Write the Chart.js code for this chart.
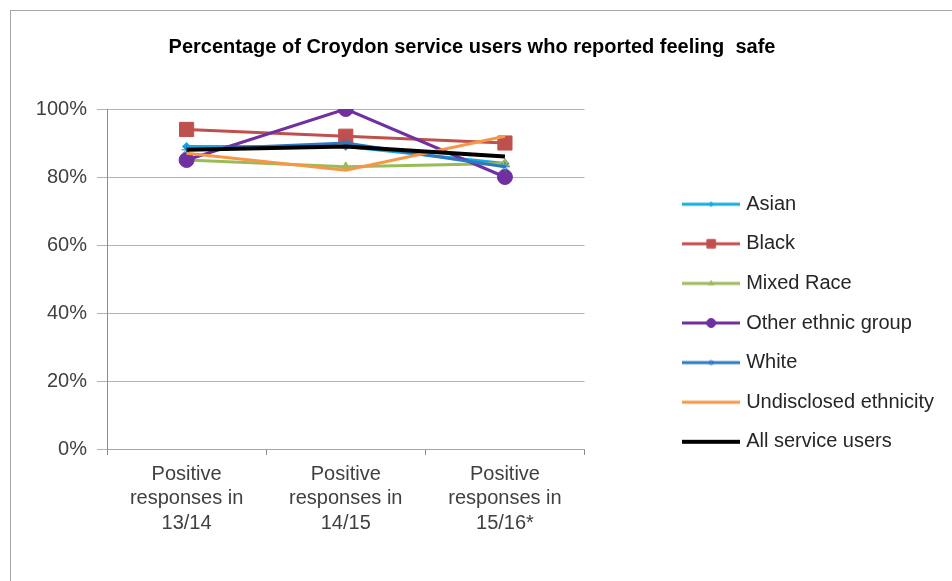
<!DOCTYPE html>
<html>
<head>
<meta charset="utf-8">
<script src="https://cdn.jsdelivr.net/npm/chart.js@4.4.1/dist/chart.umd.min.js"></script>
<style>
    html, body { margin: 0; padding: 0; background: #fff; }
    .frame {
        position: absolute; left: 10px; top: 10px;
        width: 1000px; height: 700px;
        border: 1px solid #a6a6a6;
    }
    .wrap { position: absolute; left: 0; top: 0; width: 952px; height: 581px; }
</style>
</head>
<body>
<div class="frame"></div>
<div class="wrap"><canvas id="safeChart"></canvas></div>
<script>
const categories = [
    ["Positive", "responses in", "13/14"],
    ["Positive", "responses in", "14/15"],
    ["Positive", "responses in", "15/16*"],
];
const yTicks = [0, 20, 40, 60, 80, 100];

const asian = [89, 89, 84];
const black = [94, 92, 90];
const mixedRace = [85, 83, 84];
const otherEthnic = [85, 100, 80];
const white = [88, 90, 83];
const undisclosed = [87, 82, 92];
const allUsers = [88, 89, 86];

const FONT = "Arial, 'Liberation Sans', sans-serif";

// series: label, values, colour, marker
const series = [
    { label: "Asian", data: asian, color: "#19a9e1", style: "rectRot", r: 4, w: 3 },
    { label: "Black", data: black, color: "#c0504d", style: "rect", r: 10, w: 3 },
    { label: "Mixed Race", data: mixedRace, color: "#9bbb59", style: "triangle", r: 5, w: 3 },
    { label: "Other ethnic group", data: otherEthnic, color: "#7030a0", style: "circle", r: 7.5, w: 3 },
    { label: "White", data: white, color: "#2c79c0", style: "star", r: 5, w: 3 },
    { label: "Undisclosed ethnicity", data: undisclosed, color: "#f79646", style: false, r: 0, w: 3 },
    { label: "All service users", data: allUsers, color: "#000000", style: false, r: 0, w: 4 },
];

// little line+marker swatches for the legend
function legendIcon(s) {
    const c = document.createElement("canvas");
    c.width = 58;
    c.height = 16;
    const ctx = c.getContext("2d");
    ctx.strokeStyle = s.color;
    ctx.lineWidth = s.w;
    ctx.beginPath();
    ctx.moveTo(0, 8);
    ctx.lineTo(58, 8);
    ctx.stroke();
    if (s.style) {
        ctx.fillStyle = s.color;
        ctx.lineWidth = 1;
        Chart.helpers.drawPoint(ctx, { pointStyle: s.style, radius: s.r * 0.6, borderWidth: 1, rotation: 0 }, 29, 8);
    }
    return c;
}
const icons = series.map(legendIcon);

new Chart(document.getElementById("safeChart"), {
    type: "line",
    data: {
        labels: categories,
        datasets: series.map((s, i) => ({
            label: s.label,
            data: s.data,
            borderColor: s.color,
            backgroundColor: s.color,
            borderWidth: s.w,
            pointStyle: s.style,
            pointRadius: s.r,
            pointBorderWidth: 1,
            tension: 0,
            fill: false,
            order: series.length - i, // later series drawn on top
        })),
    },
    options: {
        responsive: true,
        maintainAspectRatio: false,
        animation: false,
        layout: { padding: { left: 0, right: 8, top: 0, bottom: 42 } },
        plugins: {
            title: {
                display: true,
                text: "Percentage of Croydon service users who reported feeling  safe",
                color: "#000",
                font: { family: FONT, size: 20, weight: "bold" },
                padding: { top: 35, bottom: 50 },
            },
            legend: {
                position: "right",
                maxWidth: 300,
                // empty title just pushes the column down a bit
                title: { display: true, text: " ", font: { size: 10 }, padding: { top: 95, bottom: 0 } },
                labels: {
                    usePointStyle: true,
                    pointStyleWidth: 50,
                    padding: 19.6,
                    color: "#262626",
                    font: { family: FONT, size: 20 },
                    sort: (a, b) => a.datasetIndex - b.datasetIndex,
                    generateLabels(chart) {
                        const items = Chart.defaults.plugins.legend.labels.generateLabels(chart);
                        items.forEach((it) => { it.pointStyle = icons[it.datasetIndex]; });
                        return items;
                    },
                },
            },
            tooltip: { enabled: false },
        },
        scales: {
            x: {
                offset: true,
                afterFit(scale) { scale.height = 90; },
                grid: { offset: true, drawOnChartArea: false, tickLength: 6, color: "#8c8c8c" },
                border: { color: "#a6a6a6" },
                ticks: {
                    padding: 7,
                    maxRotation: 0,
                    color: "#404040",
                    font: { family: FONT, size: 20, lineHeight: 1.22 },
                },
            },
            y: {
                min: 0,
                max: 100,
                afterFit(scale) { scale.width = 107; },
                afterBuildTicks(scale) { scale.ticks = yTicks.map((v) => ({ value: v })); },
                grid: { color: "#b3b3b3", tickLength: 10 },
                border: { color: "#8c8c8c" },
                ticks: {
                    padding: 10,
                    color: "#404040",
                    font: { family: FONT, size: 20 },
                    callback: (v) => v + "%",
                },
            },
            gap: {
                type: "linear",
                position: "right",
                display: true,
                grid: { display: false },
                border: { display: false },
                ticks: { display: false },
                afterFit(scale) { scale.width = 82; },
            },
        },
    },
});
</script>
</body>
</html>
